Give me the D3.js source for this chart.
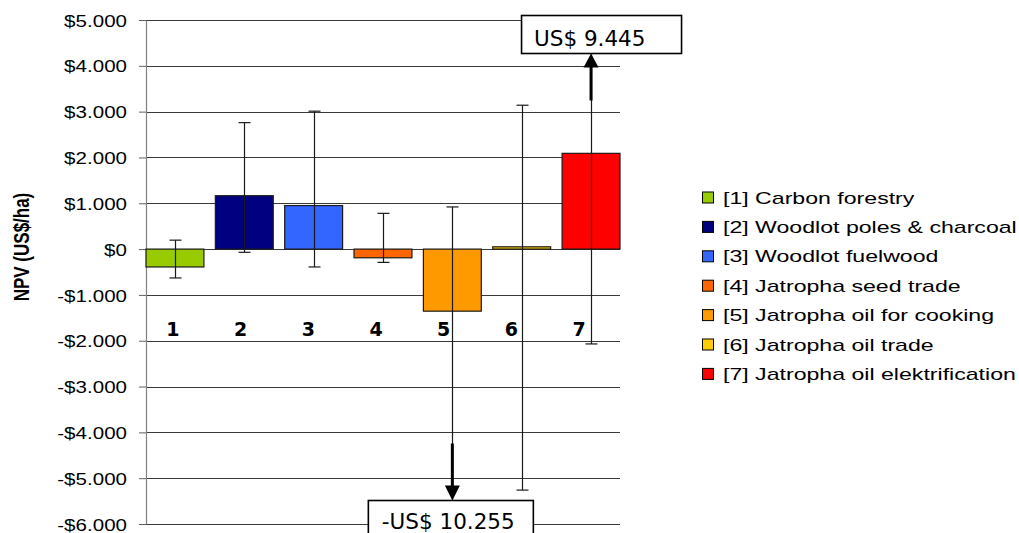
<!DOCTYPE html>
<html>
<head>
<meta charset="utf-8">
<script src="https://cdn.jsdelivr.net/npm/d3@7"></script>
<style>
  html, body { margin: 0; padding: 0; background: #fff; }
  svg { display: block; }
</style>
</head>
<body>
<svg id="chart" width="1019" height="533"></svg>
<script>
// ---------- data ----------
const categories = ["1", "2", "3", "4", "5", "6", "7"];
const seriesNames = [
  "[1] Carbon forestry",
  "[2] Woodlot poles & charcoal",
  "[3] Woodlot fuelwood",
  "[4] Jatropha seed trade",
  "[5] Jatropha oil for cooking",
  "[6] Jatropha oil trade",
  "[7] Jatropha oil elektrification"
];
const npvValues = [-390, 1165, 950, -190, -1355, 50, 2090];
const errorLow  = [-630, -70, -390, -290, -10255, -5260, -2070];
const errorHigh = [195, 2760, 3010, 780, 920, 3140, 9445];
const barColors = ["#99CC00", "#000080", "#3366FF", "#FF6600", "#FF9900", "#FFCC00", "#FF0000"];
const yTicks = [5000, 4000, 3000, 2000, 1000, 0, -1000, -2000, -3000, -4000, -5000, -6000];
const yTitle = "NPV (US$/ha)";
const calloutTop = "US$ 9.445";
const calloutBottom = "-US$ 10.255";

// ---------- layout ----------
const svg = d3.select("#chart");
const plot = { left: 146, right: 620, top: 20, bottom: 524 };

const x = d3.scaleBand().domain(categories).range([plot.left, plot.right])
  .paddingInner(0.165).paddingOuter(0);
const xLabel = d3.scaleBand().domain(categories).range([plot.left, plot.right]);
const y = d3.scaleLinear().domain([-6000, 5000]).range([plot.bottom, plot.top]);

const fmt = v => v === 0 ? "$0" : (v < 0 ? "-" : "") + "$" + d3.format(",")(Math.abs(v)).replace(/,/g, ".");

// gridlines
svg.append("g").selectAll("line").data(yTicks).join("line")
  .attr("x1", plot.left).attr("x2", plot.right)
  .attr("y1", d => Math.round(y(d)) + 0.5).attr("y2", d => Math.round(y(d)) + 0.5)
  .attr("stroke", "#3a3a3a").attr("stroke-width", 1);

// y axis
const yAxis = svg.append("g").attr("transform", `translate(${plot.left},0)`)
  .call(d3.axisLeft(y).tickValues(yTicks).tickFormat(fmt).tickSize(7).tickSizeOuter(0));
yAxis.select(".domain").attr("stroke", "#808080").attr("stroke-width", 1.2);
yAxis.selectAll(".tick line").attr("stroke", "#606060");
yAxis.selectAll(".tick text")
  .attr("x", 0).attr("dy", "0.36em")
  .attr("transform", "translate(-19,0) scale(1.21,1)")
  .attr("font-family", "'Liberation Sans', Arial, sans-serif")
  .attr("font-size", 17).attr("fill", "#000");

// y title
svg.append("text")
  .attr("transform", "translate(29,247) scale(1.3,1) rotate(-90)")
  .attr("text-anchor", "middle")
  .attr("font-family", "'Liberation Sans', Arial, sans-serif")
  .attr("font-weight", "bold").attr("font-size", 17)
  .text(yTitle);

// bars
svg.append("g").selectAll("rect").data(categories).join("rect")
  .attr("x", d => x(d))
  .attr("width", x.bandwidth())
  .attr("y", (d, i) => y(Math.max(0, npvValues[i])))
  .attr("height", (d, i) => Math.abs(y(npvValues[i]) - y(0)))
  .attr("fill", (d, i) => barColors[i])
  .attr("stroke", "#1a1a1a").attr("stroke-width", 1.2);

// error bars (clipped to plot)
svg.append("clipPath").attr("id", "plotclip").append("rect")
  .attr("x", plot.left).attr("y", plot.top)
  .attr("width", plot.right - plot.left).attr("height", plot.bottom - plot.top);
const eb = svg.append("g").attr("clip-path", "url(#plotclip)");
const capW = 6;
categories.forEach((c, i) => {
  const cx = Math.round(x(c) + x.bandwidth() / 2) + 0.5;
  const g = eb.append("g").attr("stroke", "#1a1a1a").attr("stroke-width", 1.2);
  g.append("line").attr("x1", cx).attr("x2", cx).attr("y1", y(errorLow[i])).attr("y2", y(errorHigh[i]));
  g.append("line").attr("x1", cx - capW).attr("x2", cx + capW).attr("y1", y(errorLow[i])).attr("y2", y(errorLow[i]));
  g.append("line").attr("x1", cx - capW).attr("x2", cx + capW).attr("y1", y(errorHigh[i])).attr("y2", y(errorHigh[i]));
});

// category labels
svg.append("g").selectAll("text").data(categories).join("text")
  .attr("x", d => xLabel(d) + xLabel.bandwidth() / 2 - 7)
  .attr("y", 336)
  .attr("text-anchor", "middle")
  .attr("font-family", "'DejaVu Sans', Verdana, sans-serif")
  .attr("font-weight", "bold").attr("font-size", 19)
  .text(d => d);

// callouts
const serif = "'DejaVu Sans', Verdana, sans-serif";
// top (bar 7)
{
  const cx = x("7") + x.bandwidth() / 2;
  const boxL = cx - 69.5, boxT = 15.5, boxW = 160, boxH = 38;
  const tip = boxT + boxH;
  svg.append("line").attr("x1", cx).attr("x2", cx).attr("y1", tip + 47).attr("y2", tip + 12)
    .attr("stroke", "#000").attr("stroke-width", 3);
  svg.append("path").attr("d", `M${cx - 7.5},${tip + 14} L${cx + 7.5},${tip + 14} L${cx},${tip} Z`).attr("fill", "#000");
  svg.append("rect").attr("x", boxL).attr("y", boxT).attr("width", boxW).attr("height", boxH)
    .attr("fill", "#fff").attr("stroke", "#000").attr("stroke-width", 1.6);
  svg.append("text").attr("x", boxL + 12.5).attr("y", boxT + 30)
    .attr("font-family", serif).attr("font-size", 21.5).text(calloutTop);
}
// bottom (bar 5)
{
  const cx = x("5") + x.bandwidth() / 2;
  const boxL = cx - 84, boxT = 500.5, boxW = 165, boxH = 40;
  const tip = boxT;
  svg.append("line").attr("x1", cx).attr("x2", cx).attr("y1", tip - 57).attr("y2", tip - 12)
    .attr("stroke", "#000").attr("stroke-width", 3);
  svg.append("path").attr("d", `M${cx - 7.5},${tip - 15} L${cx + 7.5},${tip - 15} L${cx},${tip} Z`).attr("fill", "#000");
  svg.append("rect").attr("x", boxL).attr("y", boxT).attr("width", boxW).attr("height", boxH)
    .attr("fill", "#fff").attr("stroke", "#000").attr("stroke-width", 1.6);
  svg.append("text").attr("x", boxL + 13.5).attr("y", boxT + 28)
    .attr("font-family", serif).attr("font-size", 21.5).text(calloutBottom);
}

// legend
const legend = svg.append("g").attr("transform", "translate(702,197.5)");
seriesNames.forEach((name, i) => {
  const row = legend.append("g").attr("transform", `translate(0,${i * 29.4})`);
  row.append("rect").attr("x", 0.5).attr("y", -5.5).attr("width", 11).attr("height", 11)
    .attr("fill", barColors[i]).attr("stroke", "#000").attr("stroke-width", 1);
  row.append("text").attr("x", 0).attr("y", 0).attr("dy", "0.36em")
    .attr("transform", "translate(21,0) scale(1.36,1)")
    .attr("font-family", "'Liberation Sans', Arial, sans-serif")
    .attr("font-size", 17).text(name);
});
</script>
</body>
</html>
